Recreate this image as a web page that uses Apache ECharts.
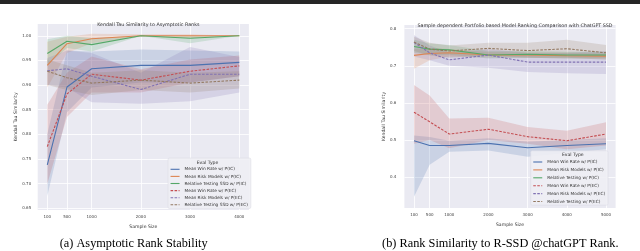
<!DOCTYPE html>
<html><head><meta charset="utf-8">
<script src="https://cdn.jsdelivr.net/npm/echarts@6/dist/echarts.min.js"></script>
<style>html,body{margin:0;padding:0;background:#fff}#c{width:640px;height:251px}</style>
</head><body><div id="c"></div>
<script>
// ---------- data: (a) asymptotic rank stability ----------
const sizesA = [100, 500, 1000, 2000, 3000, 4000];
const yTicksA = [0.65, 0.70, 0.75, 0.80, 0.85, 0.90, 0.95, 1.00];
const a_winIC    = [0.738, 0.896, 0.933, 0.940, 0.940, 0.946];
const a_winIC_lo = [0.675, 0.845, 0.895, 0.905, 0.905, 0.918];
const a_winIC_hi = [0.800, 0.970, 0.968, 0.972, 0.970, 0.968];
const a_riskIC    = [0.940, 0.984, 0.994, 1.000, 1.000, 1.000];
const a_riskIC_lo = [0.895, 0.965, 0.985, 0.998, 0.995, 1.000];
const a_riskIC_hi = [0.988, 0.998, 1.004, 1.003, 1.003, 1.000];
const a_relIC    = [0.964, 0.989, 0.982, 1.000, 0.995, 1.000];
const a_relIC_lo = [0.940, 0.975, 0.968, 1.000, 0.985, 1.000];
const a_relIC_hi = [0.993, 1.000, 0.995, 1.000, 1.000, 1.000];
const a_winEC    = [0.775, 0.882, 0.922, 0.910, 0.928, 0.939];
const a_winEC_lo = [0.700, 0.835, 0.885, 0.885, 0.905, 0.918];
const a_winEC_hi = [0.860, 0.925, 0.958, 0.932, 0.952, 0.960];
const a_riskEC    = [0.929, 0.933, 0.918, 0.891, 0.922, 0.922];
const a_riskEC_lo = [0.900, 0.895, 0.865, 0.862, 0.867, 0.885];
const a_riskEC_hi = [0.955, 0.970, 0.965, 0.925, 0.977, 0.957];
const a_relEC    = [0.928, 0.915, 0.904, 0.910, 0.904, 0.910];
const a_relEC_lo = [0.900, 0.890, 0.880, 0.890, 0.885, 0.893];
const a_relEC_hi = [0.952, 0.940, 0.925, 0.930, 0.925, 0.928];
const namesA = ['Mean Win Rate w/ P(IC)', 'Mean Risk Models w/ P(IC)', 'Relative Testing SSD w/ P(IC)',
                'Mean Win Rate w/ P(EC)', 'Mean Risk Models w/ P(EC)', 'Relative Testing SSD w/ P(EC)'];

// ---------- data: (b) rank similarity to R-SSD ----------
const sizesB = [100, 500, 1000, 2000, 3000, 4000, 5000];
const yTicksB = [0.4, 0.5, 0.6, 0.7, 0.8];
const b_winIC    = [0.498, 0.485, 0.485, 0.491, 0.479, 0.485, 0.490];
const b_winIC_lo = [0.347, 0.433, 0.468, 0.472, 0.455, 0.465, 0.475];
const b_winIC_hi = [0.512, 0.508, 0.498, 0.505, 0.495, 0.500, 0.505];
const b_riskIC    = [0.728, 0.733, 0.735, 0.729, 0.729, 0.727, 0.726];
const b_riskIC_lo = [0.692, 0.715, 0.725, 0.722, 0.722, 0.720, 0.720];
const b_riskIC_hi = [0.745, 0.748, 0.745, 0.737, 0.736, 0.735, 0.733];
const b_relIC    = [0.752, 0.745, 0.743, 0.729, 0.731, 0.729, 0.729];
const b_relIC_lo = [0.735, 0.730, 0.730, 0.720, 0.722, 0.720, 0.720];
const b_relIC_hi = [0.770, 0.760, 0.756, 0.740, 0.740, 0.738, 0.738];
const b_winEC    = [0.575, 0.549, 0.516, 0.529, 0.509, 0.498, 0.516];
const b_winEC_lo = [0.490, 0.500, 0.478, 0.500, 0.490, 0.475, 0.485];
const b_winEC_hi = [0.648, 0.620, 0.558, 0.560, 0.535, 0.525, 0.548];
const b_riskEC    = [0.763, 0.735, 0.716, 0.729, 0.710, 0.710, 0.710];
const b_riskEC_lo = [0.725, 0.715, 0.700, 0.695, 0.683, 0.680, 0.678];
const b_riskEC_hi = [0.783, 0.755, 0.735, 0.745, 0.735, 0.735, 0.740];
const b_relEC    = [0.764, 0.745, 0.740, 0.747, 0.741, 0.746, 0.735];
const b_relEC_lo = [0.740, 0.728, 0.722, 0.728, 0.722, 0.722, 0.716];
const b_relEC_hi = [0.778, 0.762, 0.755, 0.762, 0.762, 0.770, 0.756];
const namesB = ['Mean Win Rate w/ P(IC)', 'Mean Risk Models w/ P(IC)', 'Relative Testing w/ P(IC)',
                'Mean Win Rate w/ P(EC)', 'Mean Risk Models w/ P(EC)', 'Relative Testing w/ P(EC)'];

// ---------- style ----------
const COLORS = ['#4c72b0', '#dd8452', '#55a868', '#c44e52', '#8172b3', '#937860'];
const DASH = [2.6, 1.4];
const SANS = 'DejaVu Sans';

function lineSeries(idx, name, xs, ys, k) {
  return {
    type: 'line', name: name, xAxisIndex: idx, yAxisIndex: idx,
    data: xs.map((x, i) => [x, ys[i]]),
    symbol: 'none', showSymbol: false, z: 5, silent: true, animation: false,
    color: COLORS[k],
    lineStyle: { color: COLORS[k], width: 1.1, type: k >= 3 ? DASH : 'solid' }
  };
}
function bandSeries(idx, xs, lo, hi, k) {
  return {
    type: 'custom', xAxisIndex: idx, yAxisIndex: idx, silent: true, z: 2, animation: false,
    data: xs.map((x, i) => [x, lo[i], hi[i]]),
    encode: { x: 0, y: [1, 2] },
    renderItem: function (params, api) {
      if (params.dataIndex !== 0) return null;
      const pts = [];
      for (let i = 0; i < xs.length; i++) pts.push(api.coord([xs[i], hi[i]]));
      for (let i = xs.length - 1; i >= 0; i--) pts.push(api.coord([xs[i], lo[i]]));
      return { type: 'polygon', shape: { points: pts }, style: { fill: COLORS[k], opacity: 0.2 } };
    }
  };
}

const seriesA = [
  [a_winIC, a_winIC_lo, a_winIC_hi], [a_riskIC, a_riskIC_lo, a_riskIC_hi], [a_relIC, a_relIC_lo, a_relIC_hi],
  [a_winEC, a_winEC_lo, a_winEC_hi], [a_riskEC, a_riskEC_lo, a_riskEC_hi], [a_relEC, a_relEC_lo, a_relEC_hi]
];
const seriesB = [
  [b_winIC, b_winIC_lo, b_winIC_hi], [b_riskIC, b_riskIC_lo, b_riskIC_hi], [b_relIC, b_relIC_lo, b_relIC_hi],
  [b_winEC, b_winEC_lo, b_winEC_hi], [b_riskEC, b_riskEC_lo, b_riskEC_hi], [b_relEC, b_relEC_lo, b_relEC_hi]
];
const allSeries = [];
seriesA.forEach((s, k) => { allSeries.push(lineSeries(0, namesA[k], sizesA, s[0], k)); allSeries.push(bandSeries(0, sizesA, s[1], s[2], k)); });
seriesB.forEach((s, k) => { allSeries.push(lineSeries(1, namesB[k], sizesB, s[0], k)); allSeries.push(bandSeries(1, sizesB, s[1], s[2], k)); });

function xAxis(idx, min, max, ticks) {
  return {
    type: 'value', gridIndex: idx, min: min, max: max,
    name: 'Sample Size', nameLocation: 'middle', nameGap: idx === 0 ? 10.5 : 11.5,
    nameTextStyle: { fontFamily: SANS, fontSize: 4.6, color: '#333' },
    axisLine: { show: false }, axisTick: { show: false, customValues: ticks },
    axisLabel: { customValues: ticks, fontFamily: SANS, fontSize: 4, color: '#444', margin: 5,
      formatter: v => String(Math.round(v)) },
    splitLine: { show: true, lineStyle: { color: '#ffffff', width: 0.8 } }
  };
}
function yAxis(idx, min, max, ticks, dec) {
  return {
    type: 'value', gridIndex: idx, min: min, max: max,
    name: 'Kendall Tau Similarity', nameLocation: 'middle', nameGap: idx === 0 ? 15 : 15.5, nameRotate: 90,
    nameTextStyle: { fontFamily: SANS, fontSize: 4.6, color: '#333' },
    axisLine: { show: false }, axisTick: { show: false, customValues: ticks },
    axisLabel: { customValues: ticks, fontFamily: SANS, fontSize: 4, color: '#444', margin: idx === 0 ? 6.5 : 8,
      formatter: v => Number(v).toFixed(dec) },
    splitLine: { show: true, lineStyle: { color: '#ffffff', width: 0.8 } }
  };
}
function legend(names, left, top, gap) {
  return {
    data: names, orient: 'vertical', left: left, top: top,
    padding: [8.8, 3, 1.2, 2], itemGap: gap, itemWidth: 9, itemHeight: 5,
    backgroundColor: 'rgba(238,238,244,0.9)', borderColor: '#d8d8e2', borderWidth: 0.5, borderRadius: 1.5,
    textStyle: { fontFamily: SANS, fontSize: 4.3, color: '#333', lineHeight: 5 },
    itemStyle: { color: 'rgba(0,0,0,0)', borderWidth: 0, opacity: 0 },
    lineStyle: { width: 1.1 },
    selectedMode: false
  };
}

const chart = echarts.init(document.getElementById('c'), null, { renderer: 'canvas' });
chart.setOption({
  animation: false,
  backgroundColor: '#ffffff',
  title: [
    { text: 'Kendall Tau Similarity to Asymptotic Ranks', left: 143.3, top: 17.5, textAlign: 'center',
      textStyle: { fontFamily: SANS, fontSize: 4.8, fontWeight: 'normal', color: '#333' } },
    { text: 'Sample dependent Portfolio based Model Ranking Comparison with ChatGPT SSD', left: 510, top: 18.3, textAlign: 'center',
      textStyle: { fontFamily: SANS, fontSize: 4.8, fontWeight: 'normal', color: '#333' } }
  ],
  grid: [
    { left: 37.7, top: 24, width: 211.2, height: 186, show: true, backgroundColor: '#eaeaf2', borderWidth: 0 },
    { left: 404.4, top: 25, width: 211.2, height: 183, show: true, backgroundColor: '#eaeaf2', borderWidth: 0 }
  ],
  xAxis: [xAxis(0, -95, 4195, sizesA), xAxis(1, -145, 5245, sizesB)],
  yAxis: [yAxis(0, 0.6465, 1.0239, yTicksA, 2), yAxis(1, 0.3167, 0.810, yTicksB, 1)],
  legend: [legend(namesA, 168, 158, 2.1), legend(namesB, 530.7, 150.7, 2.9)],
  graphic: [
    { type: 'rect', shape: { x: 0, y: 0, width: 640, height: 4 }, style: { fill: '#262626' } },
    { type: 'text', x: 207.5, y: 162.7, style: { text: 'Eval Type', fontFamily: SANS, fontSize: 4.6, fill: '#333', align: 'center', verticalAlign: 'middle' }, z: 100 },
    { type: 'text', x: 572.8, y: 154.3, style: { text: 'Eval Type', fontFamily: SANS, fontSize: 4.6, fill: '#333', align: 'center', verticalAlign: 'middle' }, z: 100 },
    { type: 'text', x: 133.7, y: 243.3, style: { text: '(a) Asymptotic Rank Stability', fontFamily: 'Liberation Serif', fontSize: 12.3, fill: '#000', align: 'center', verticalAlign: 'middle' } },
    { type: 'text', x: 500.3, y: 243.3, style: { text: '(b) Rank Similarity to R-SSD @chatGPT Rank.', fontFamily: 'Liberation Serif', fontSize: 12.3, fill: '#000', align: 'center', verticalAlign: 'middle' } }
  ],
  series: allSeries
});
</script>
</body></html>
